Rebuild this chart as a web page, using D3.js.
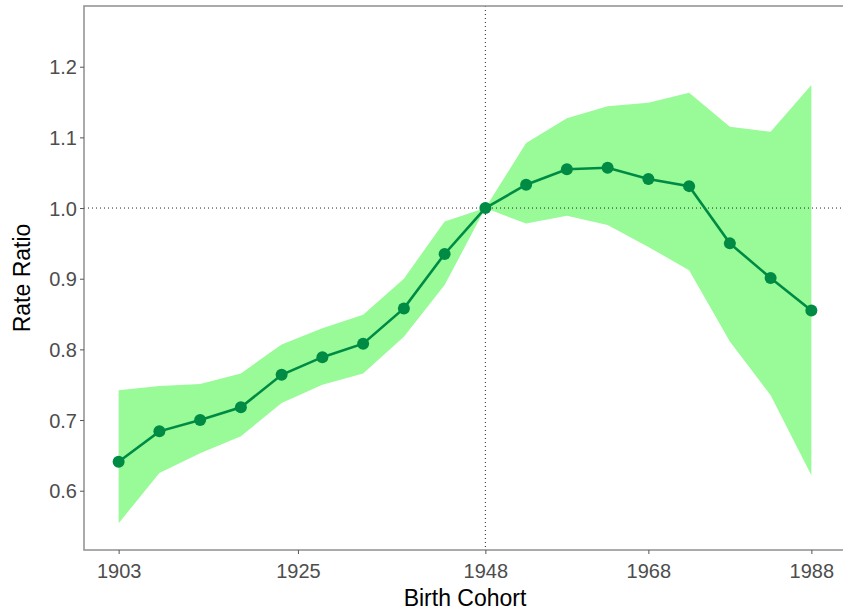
<!DOCTYPE html>
<html>
<head>
<meta charset="utf-8">
<script src="https://cdn.jsdelivr.net/npm/d3@7"></script>
<style>
  body { margin: 0; background: #fff; }
  svg { display: block; font-family: "Liberation Sans", Arial, sans-serif; }
</style>
</head>
<body>
<svg id="chart" width="843" height="612"></svg>
<script>
const cohorts = [1903, 1908, 1913, 1918, 1923, 1928, 1933, 1938, 1943, 1948,
  1953, 1958, 1963, 1968, 1973, 1978, 1983, 1988];
const rateRatio = [0.641, 0.684, 0.700, 0.718, 0.764, 0.789, 0.808, 0.858, 0.935, 1.0,
  1.033, 1.055, 1.057, 1.041, 1.031, 0.950, 0.901, 0.855];
const upperCI = [0.742, 0.748, 0.751, 0.766, 0.807, 0.830, 0.849, 0.900, 0.981, 1.0,
  1.092, 1.127, 1.144, 1.149, 1.163, 1.115, 1.108, 1.174];
const lowerCI = [0.554, 0.625, 0.653, 0.677, 0.724, 0.750, 0.766, 0.818, 0.891, 1.0,
  0.978, 0.989, 0.976, 0.945, 0.912, 0.811, 0.735, 0.622];
const xTicks = [1903, 1925, 1948, 1968, 1988];
const yTicks = [0.6, 0.7, 0.8, 0.9, 1.0, 1.1, 1.2];

const data = cohorts.map((c, i) => ({
  cohort: c, rr: rateRatio[i], lo: lowerCI[i], hi: upperCI[i]
}));

const panel = { left: 84, top: 6, right: 846, bottom: 550 };
const svg = d3.select("#chart");

const x = d3.scaleLinear().domain([1898.75, 1992.25]).range([panel.left, panel.right]);
const y = d3.scaleLinear().domain([0.5161, 1.2859]).range([panel.bottom, panel.top]);

const darkGreen = "#008B45";

// confidence band
svg.append("path")
  .datum(data)
  .attr("fill", "#98FB98")
  .attr("d", d3.area()
    .x(d => x(d.cohort))
    .y0(d => y(d.lo))
    .y1(d => y(d.hi)));

// reference lines
svg.append("line")
  .attr("x1", panel.left).attr("x2", panel.right)
  .attr("y1", y(1)).attr("y2", y(1))
  .attr("stroke", "#222").attr("stroke-width", 1)
  .attr("stroke-dasharray", "1,3");
svg.append("line")
  .attr("x1", x(1948)).attr("x2", x(1948))
  .attr("y1", panel.top).attr("y2", panel.bottom)
  .attr("stroke", "#222").attr("stroke-width", 1)
  .attr("stroke-dasharray", "1,3");

// line and points
svg.append("path")
  .datum(data)
  .attr("fill", "none")
  .attr("stroke", darkGreen)
  .attr("stroke-width", 2.6)
  .attr("d", d3.line().x(d => x(d.cohort)).y(d => y(d.rr)));

svg.selectAll("circle.pt")
  .data(data)
  .enter()
  .append("circle")
  .attr("class", "pt")
  .attr("cx", d => x(d.cohort))
  .attr("cy", d => y(d.rr))
  .attr("r", 6)
  .attr("fill", darkGreen);

// panel border
svg.append("rect")
  .attr("x", panel.left).attr("y", panel.top)
  .attr("width", panel.right - panel.left)
  .attr("height", panel.bottom - panel.top)
  .attr("fill", "none")
  .attr("stroke", "#8f8f8f")
  .attr("stroke-width", 1.5);

// axes
const xAxis = svg.append("g")
  .attr("transform", `translate(0,${panel.bottom})`)
  .call(d3.axisBottom(x).tickValues(xTicks).tickFormat(d3.format("d")).tickSize(4).tickPadding(6));
const yAxis = svg.append("g")
  .attr("transform", `translate(${panel.left},0)`)
  .call(d3.axisLeft(y).tickValues(yTicks).tickFormat(d3.format(".1f")).tickSize(4).tickPadding(3));

[xAxis, yAxis].forEach(g => {
  g.select(".domain").remove();
  g.selectAll(".tick line").attr("stroke", "#555");
  g.selectAll(".tick text")
    .attr("fill", "#4d4d4d")
    .style("font-size", "20px")
    .style("font-family", "'Liberation Sans', Arial, sans-serif");
});
xAxis.selectAll(".tick text").attr("dy", "0.9em");
yAxis.selectAll(".tick text").attr("dy", "0.36em");

// axis titles
svg.append("text")
  .attr("x", (panel.left + panel.right) / 2)
  .attr("y", 606)
  .attr("text-anchor", "middle")
  .style("font-size", "23px")
  .attr("fill", "#000")
  .text("Birth Cohort");

svg.append("text")
  .attr("transform", `translate(30,${(panel.top + panel.bottom) / 2}) rotate(-90)`)
  .attr("text-anchor", "middle")
  .style("font-size", "23px")
  .attr("fill", "#000")
  .text("Rate Ratio");
</script>
</body>
</html>
